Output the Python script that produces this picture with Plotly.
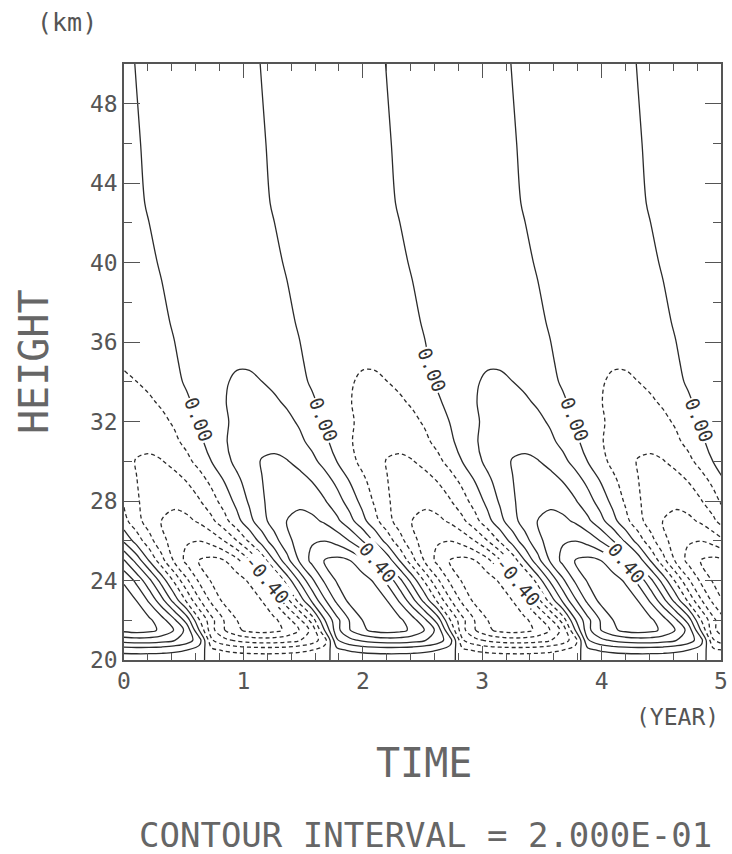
import plotly.graph_objects as go

# ---- data (time in years, height in km) ----
TIME_YEAR = [0.0, 0.105, 0.21, 0.315, 0.42, 0.525, 0.63, 0.735, 0.84, 0.945,
             1.05, 1.155, 1.26, 1.365, 1.47, 1.575, 1.68, 1.785, 1.89, 1.995,
             2.1, 2.205, 2.31, 2.415, 2.52, 2.625, 2.73, 2.835, 2.94, 3.045,
             3.15, 3.255, 3.36, 3.465, 3.57, 3.675, 3.78, 3.885, 3.99, 4.095,
             4.2, 4.305, 4.41, 4.515, 4.62, 4.725, 4.83, 4.935, 5.04]

HEIGHT_KM = [20, 20.5, 21, 21.5, 22, 23, 24, 25, 26, 27, 28, 29, 30, 31, 32,
             33, 34, 35, 37, 40, 43, 46, 50]

# field values, one row per height (bottom to top), one column per time
FIELD = [
    # 20.0 km
    [.048, .05, .05, .047, .043, .035, .02, -.027, -.038, -.044, -.048, -.05, -.05, -.047, -.043, -.035, -.02, .027, .038, .044,
     .048, .05, .05, .047, .043, .035, .02, -.027, -.038, -.044, -.048, -.05, -.05, -.047, -.043, -.035, -.02, .027, .038, .044,
     .048, .05, .05, .047, .043, .035, .02, -.027, -.038],
    # 20.5 km
    [.28, .289, .287, .274, .247, .202, .118, -.155, -.22, -.258, -.28, -.289, -.287, -.274, -.247, -.202, -.118, .155, .22, .258,
     .28, .289, .287, .274, .247, .202, .118, -.155, -.22, -.258, -.28, -.289, -.287, -.274, -.247, -.202, -.118, .155, .22, .258,
     .28, .289, .287, .274, .247, .202, .118, -.155, -.22],
    # 21.0 km
    [.695, .719, .714, .68, .613, .503, .292, -.384, -.546, -.639, -.695, -.719, -.714, -.68, -.613, -.503, -.292, .384, .546, .639,
     .695, .719, .714, .68, .613, .503, .292, -.384, -.546, -.639, -.695, -.719, -.714, -.68, -.613, -.503, -.292, .384, .546, .639,
     .695, .719, .714, .68, .613, .503, .292, -.384, -.546],
    # 21.5 km
    [1.057, 1.09, 1.057, .96, .792, .538, -.005, -.538, -.792, -.96, -1.057, -1.09, -1.057, -.96, -.792, -.538, .005, .538, .792, .96,
     1.057, 1.09, 1.057, .96, .792, .538, -.005, -.538, -.792, -.96, -1.057, -1.09, -1.057, -.96, -.792, -.538, .005, .538, .792, .96,
     1.057, 1.09, 1.057, .96, .792, .538, -.005, -.538, -.792],
    # 22 km
    [1.1, 1.116, 1.042, .883, .643, .319, -.185, -.545, -.812, -.998, -1.1, -1.116, -1.042, -.883, -.643, -.319, .185, .545, .812, .998,
     1.1, 1.116, 1.042, .883, .643, .319, -.185, -.545, -.812, -.998, -1.1, -1.116, -1.042, -.883, -.643, -.319, .185, .545, .812, .998,
     1.1, 1.116, 1.042, .883, .643, .319, -.185, -.545, -.812],
    # 23 km
    [1.125, .996, .769, .468, .121, -.239, -.575, -.854, -1.051, -1.144, -1.125, -.996, -.769, -.468, -.121, .239, .575, .854, 1.051, 1.144,
     1.125, .996, .769, .468, .121, -.239, -.575, -.854, -1.051, -1.144, -1.125, -.996, -.769, -.468, -.121, .239, .575, .854, 1.051, 1.144,
     1.125, .996, .769, .468, .121, -.239, -.575, -.854, -1.051],
    # 24 km
    [.97, .749, .456, .118, -.233, -.56, -.832, -1.024, -1.114, -1.095, -.97, -.749, -.456, -.118, .233, .56, .832, 1.024, 1.114, 1.095,
     .97, .749, .456, .118, -.233, -.56, -.832, -1.024, -1.114, -1.095, -.97, -.749, -.456, -.118, .233, .56, .832, 1.024, 1.114, 1.095,
     .97, .749, .456, .118, -.233, -.56, -.832, -1.024, -1.114],
    # 25 km
    [.623, .328, -.005, -.328, -.623, -.858, -1.008, -1.06, -1.008, -.858, -.623, -.328, .005, .328, .623, .858, 1.008, 1.06, 1.008, .858,
     .623, .328, -.005, -.328, -.623, -.858, -1.008, -1.06, -1.008, -.858, -.623, -.328, .005, .328, .623, .858, 1.008, 1.06, 1.008, .858,
     .623, .328, -.005, -.328, -.623, -.858, -1.008, -1.06, -1.008],
    # 26 km
    [.166, -.084, -.326, -.535, -.693, -.782, -.796, -.731, -.594, -.402, -.166, .084, .326, .535, .693, .782, .796, .731, .594, .402,
     .166, -.084, -.326, -.535, -.693, -.782, -.796, -.731, -.594, -.402, -.166, .084, .326, .535, .693, .782, .796, .731, .594, .402,
     .166, -.084, -.326, -.535, -.693, -.782, -.796, -.731, -.594],
    # 27 km
    [-.137, -.33, -.49, -.603, -.657, -.645, -.572, -.442, -.269, -.069, .137, .33, .49, .603, .657, .645, .572, .442, .269, .069,
     -.137, -.33, -.49, -.603, -.657, -.645, -.572, -.442, -.269, -.069, .137, .33, .49, .603, .657, .645, .572, .442, .269, .069,
     -.137, -.33, -.49, -.603, -.657, -.645, -.572, -.442, -.269],
    # 28 km
    [-.228, -.375, -.485, -.548, -.557, -.512, -.416, -.28, -.116, .059, .228, .375, .485, .548, .557, .512, .416, .28, .116, -.059,
     -.228, -.375, -.485, -.548, -.557, -.512, -.416, -.28, -.116, .059, .228, .375, .485, .548, .557, .512, .416, .28, .116, -.059,
     -.228, -.375, -.485, -.548, -.557, -.512, -.416, -.28, -.116],
    # 29 km
    [-.288, -.396, -.466, -.49, -.466, -.396, -.288, -.151, .005, .151, .288, .396, .466, .49, .466, .396, .288, .151, -.005, -.151,
     -.288, -.396, -.466, -.49, -.466, -.396, -.288, -.151, .005, .151, .288, .396, .466, .49, .466, .396, .288, .151, -.005, -.151,
     -.288, -.396, -.466, -.49, -.466, -.396, -.288, -.151, .005],
    # 30 km
    [-.348, -.409, -.43, -.409, -.348, -.253, -.133, .005, .133, .253, .348, .409, .43, .409, .348, .253, .133, -.005, -.133, -.253,
     -.348, -.409, -.43, -.409, -.348, -.253, -.133, .005, .133, .253, .348, .409, .43, .409, .348, .253, .133, -.005, -.133, -.253,
     -.348, -.409, -.43, -.409, -.348, -.253, -.133, .005, .133],
    # 31 km
    [-.329, -.358, -.352, -.312, -.241, -.147, -.038, .075, .18, .267, .329, .358, .352, .312, .241, .147, .038, -.075, -.18, -.267,
     -.329, -.358, -.352, -.312, -.241, -.147, -.038, .075, .18, .267, .329, .358, .352, .312, .241, .147, .038, -.075, -.18, -.267,
     -.329, -.358, -.352, -.312, -.241, -.147, -.038, .075, .18],
    # 32 km
    [-.285, -.3, -.285, -.243, -.176, -.093, .005, .093, .176, .243, .285, .3, .285, .243, .176, .093, -.005, -.093, -.176, -.243,
     -.285, -.3, -.285, -.243, -.176, -.093, .005, .093, .176, .243, .285, .3, .285, .243, .176, .093, -.005, -.093, -.176, -.243,
     -.285, -.3, -.285, -.243, -.176, -.093, .005, .093, .176],
    # 33 km
    [-.259, -.254, -.225, -.174, -.106, -.027, .054, .13, .193, .238, .259, .254, .225, .174, .106, .027, -.054, -.13, -.193, -.238,
     -.259, -.254, -.225, -.174, -.106, -.027, .054, .13, .193, .238, .259, .254, .225, .174, .106, .027, -.054, -.13, -.193, -.238,
     -.259, -.254, -.225, -.174, -.106, -.027, .054, .13, .193],
    # 34 km
    [-.219, -.201, -.163, -.11, -.046, .023, .09, .147, .191, .215, .219, .201, .163, .11, .046, -.023, -.09, -.147, -.191, -.215,
     -.219, -.201, -.163, -.11, -.046, .023, .09, .147, .191, .215, .219, .201, .163, .11, .046, -.023, -.09, -.147, -.191, -.215,
     -.219, -.201, -.163, -.11, -.046, .023, .09, .147, .191],
    # 35 km
    [-.186, -.165, -.127, -.077, -.02, .04, .095, .141, .174, .189, .186, .165, .127, .077, .02, -.04, -.095, -.141, -.174, -.189,
     -.186, -.165, -.127, -.077, -.02, .04, .095, .141, .174, .189, .186, .165, .127, .077, .02, -.04, -.095, -.141, -.174, -.189,
     -.186, -.165, -.127, -.077, -.02, .04, .095, .141, .174],
    # 37 km
    [-.128, -.104, -.07, -.029, .015, .057, .094, .121, .137, .139, .128, .104, .07, .029, -.015, -.057, -.094, -.121, -.137, -.139,
     -.128, -.104, -.07, -.029, .015, .057, .094, .121, .137, .139, .128, .104, .07, .029, -.015, -.057, -.094, -.121, -.137, -.139,
     -.128, -.104, -.07, -.029, .015, .057, .094, .121, .137],
    # 40 km
    [-.082, -.055, -.023, .012, .045, .074, .095, .108, .109, .101, .082, .055, .023, -.012, -.045, -.074, -.095, -.108, -.109, -.101,
     -.082, -.055, -.023, .012, .045, .074, .095, .108, .109, .101, .082, .055, .023, -.012, -.045, -.074, -.095, -.108, -.109, -.101,
     -.082, -.055, -.023, .012, .045, .074, .095, .108, .109],
    # 43 km
    [-.05, -.021, .011, .041, .067, .087, .098, .1, .091, .074, .05, .021, -.011, -.041, -.067, -.087, -.098, -.1, -.091, -.074,
     -.05, -.021, .011, .041, .067, .087, .098, .1, .091, .074, .05, .021, -.011, -.041, -.067, -.087, -.098, -.1, -.091, -.074,
     -.05, -.021, .011, .041, .067, .087, .098, .1, .091],
    # 46 km
    [-.037, -.009, .019, .045, .067, .082, .09, .088, .078, .06, .037, .009, -.019, -.045, -.067, -.082, -.09, -.088, -.078, -.06,
     -.037, -.009, .019, .045, .067, .082, .09, .088, .078, .06, .037, .009, -.019, -.045, -.067, -.082, -.09, -.088, -.078, -.06,
     -.037, -.009, .019, .045, .067, .082, .09, .088, .078],
    # 50 km
    [-.025, .004, .025, .047, .065, .076, .08, .076, .065, .047, .025, -.004, -.025, -.047, -.065, -.076, -.08, -.076, -.065, -.047,
     -.025, .004, .025, .047, .065, .076, .08, .076, .065, .047, .025, -.004, -.025, -.047, -.065, -.076, -.08, -.076, -.065, -.047,
     -.025, .004, .025, .047, .065, .076, .08, .076, .065],
]

X_TICKS = [0, 1, 2, 3, 4, 5]
Y_TICKS = [20, 24, 28, 32, 36, 40, 44, 48]

# contour labels as in the reference: text, time, height, angle
LABEL_TEXT = ["0.00", "0.00", "0.00", "0.00", "0.00",
              "-0.40", "-0.40", "0.40", "0.40"]
LABEL_TIME = [0.63, 1.675, 2.58, 3.78, 4.82, 1.20, 3.30, 2.13, 4.21]
LABEL_HEIGHT = [32.1, 32.1, 34.6, 32.1, 32.1, 24.1, 24.0, 24.9, 24.9]
LABEL_ANGLE = [68, 68, 68, 68, 68, 50, 50, 50, 50]

# ---- styling ----
LINE = "#2b2b2b"
TXT = "#555555"
TITLE_TXT = "#666666"
FONT = "DejaVu Sans Mono"

# (start, end, size, dash)
LEVEL_SETS = [
    (0.0, 1.05, 0.2, "solid"),
    (-1.0, -0.15, 0.2, "4px,3px"),
]

fig = go.Figure()
for start, end, size, dash in LEVEL_SETS:
    fig.add_trace(go.Contour(
        x=TIME_YEAR, y=HEIGHT_KM, z=FIELD,
        autocontour=False,
        contours=dict(start=start, end=end, size=size, coloring="none",
                      showlabels=False),
        line=dict(color=LINE, width=1.3, dash=dash, smoothing=1.0),
        showscale=False, hoverinfo="skip",
    ))

for txt, t, h, ang in zip(LABEL_TEXT, LABEL_TIME, LABEL_HEIGHT, LABEL_ANGLE):
    fig.add_annotation(text=txt, x=t, y=h, xref="x", yref="y",
                       showarrow=False, textangle=ang,
                       bgcolor="white", borderpad=0,
                       font=dict(family=FONT, size=19, color="#333333"))

axis_common = dict(
    showgrid=False, zeroline=False, showline=True, mirror="ticks",
    linecolor="#555555", linewidth=1.5, automargin=False,
    ticks="inside", tickcolor="#555555", tickwidth=1.3,
    tickfont=dict(family=FONT, size=23, color=TXT),
)
fig.update_xaxes(range=[0, 5], tickvals=X_TICKS, ticklen=14,
                 minor=dict(dtick=0.2, ticklen=7, ticks="inside",
                            tickcolor="#555555", tickwidth=1.2),
                 **axis_common)
fig.update_yaxes(range=[20, 50], tickvals=Y_TICKS, ticklen=16,
                 minor=dict(dtick=2, ticklen=8, ticks="inside",
                            tickcolor="#555555", tickwidth=1.2),
                 **axis_common)

W, H = 732, 854
L, R, T, B = 124, 11, 64, 194
pw, ph = W - L - R, H - T - B

def px(xp):
    return (xp - L) / pw

def py(yp):
    return (H - B - yp) / ph

annotations = [
    dict(text="(km)", x=px(67), y=py(22), size=25, angle=0, xa="center", c=TXT),
    dict(text="HEIGHT", x=px(34), y=py(362), size=40, angle=-90, xa="center", c=TITLE_TXT),
    dict(text="(YEAR)", x=1.0, y=py(717), size=23, angle=0, xa="right", c=TXT),
    dict(text="TIME", x=px(424), y=py(763), size=40, angle=0, xa="center", c=TITLE_TXT),
    dict(text="CONTOUR INTERVAL = 2.000E-01", x=px(425), y=py(835), size=34,
         angle=0, xa="center", c=TITLE_TXT),
]
for a in annotations:
    fig.add_annotation(text=a["text"], x=a["x"], y=a["y"], xref="paper",
                       yref="paper", showarrow=False, textangle=a["angle"],
                       xanchor=a["xa"], yanchor="middle",
                       font=dict(family=FONT, size=a["size"], color=a["c"]))

fig.update_layout(
    width=W, height=H, autosize=False,
    margin=dict(l=L, r=R, t=T, b=B, pad=0, autoexpand=False),
    paper_bgcolor="white", plot_bgcolor="white",
    showlegend=False,
)

fig.write_html("out.html",
               config={"displayModeBar": False, "responsive": False},
               post_script="document.body.style.margin='0px';"
                           "document.body.style.padding='0px';"
                           "document.body.style.overflow='hidden';")
